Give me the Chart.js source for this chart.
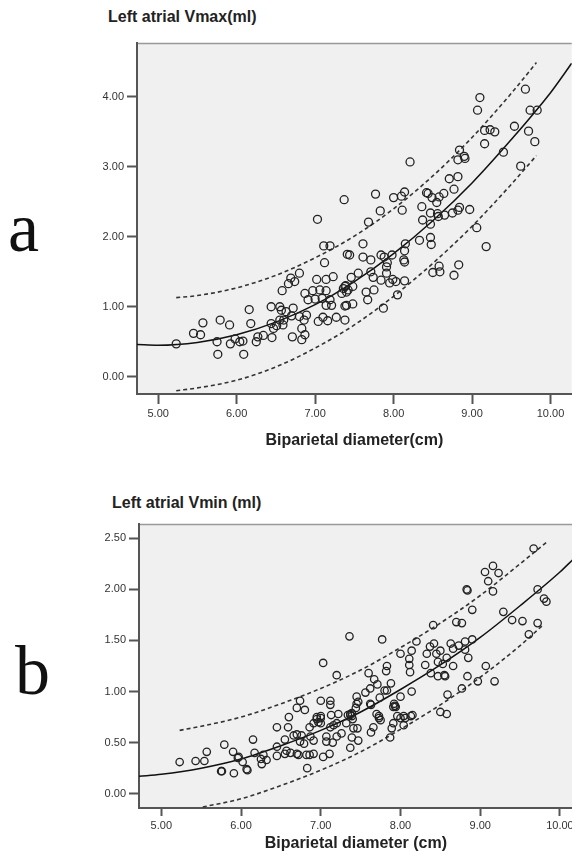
<!DOCTYPE html>
<html>
<head>
<meta charset="utf-8">
<script src="https://cdn.jsdelivr.net/npm/chart.js@4.4.1/dist/chart.umd.min.js"></script>
<style>
  body { margin: 0; background: #fff; width: 572px; height: 855px; position: relative; overflow: hidden; font-family: "Liberation Sans", Arial, sans-serif; }
  .panel { position: absolute; left: 0; }
  .ttl { position: absolute; font-size: 16px; font-weight: bold; color: #222; line-height: 18px; white-space: nowrap; }
  .tag { position: absolute; font-family: "Liberation Serif", "DejaVu Serif", serif; font-size: 70px; line-height: 70px; color: #111; }
</style>
</head>
<body>
<div class="ttl" style="left:108px; top:8px;">Left atrial Vmax(ml)</div>
<div class="ttl" style="left:112px; top:494px;">Left atrial Vmin (ml)</div>
<div class="tag" style="left:8px; top:193px;">a</div>
<div class="tag" style="left:15px; top:636px;">b</div>
<div class="panel" style="top:0px;"><canvas id="chartA" width="577" height="460"></canvas></div>
<div class="panel" style="top:460px;"><canvas id="chartB" width="578" height="395"></canvas></div>
<script>
// ---- panel a : Left atrial Vmax ----
const xTicksA = [5, 6, 7, 8, 9, 10];
const yTicksA = [0, 1, 2, 3, 4];

const ptsAX = [9.10, 9.07, 9.68, 9.74, 9.83,
  9.16, 9.23, 9.29, 9.16, 9.54, 9.72, 9.80, 9.40, 9.62,
  8.84, 8.82, 8.90, 8.91, 8.21, 8.71, 8.82, 8.77, 8.42, 8.44, 8.49, 8.58, 8.64, 8.55, 8.36, 8.14, 8.10, 8.00, 7.77, 7.37,
  7.83, 8.11, 7.03, 7.68, 8.37, 8.47, 8.56, 8.57, 8.65, 8.75, 8.82, 8.84, 8.97, 9.06, 9.18, 8.47, 8.47, 8.48, 8.33, 8.15,
  8.14, 7.61, 7.11, 7.19, 7.41, 7.44, 7.61, 7.71, 7.84, 7.88, 7.98,
  8.13, 8.14, 7.92, 7.91, 7.12, 6.80, 6.69, 6.66, 6.74, 6.58, 7.02, 7.14, 7.23, 6.87, 6.97, 7.06, 7.14, 6.91, 7.00, 7.09,
  7.19, 7.21, 7.14, 7.38, 7.40, 7.48, 7.46, 7.34, 7.55, 7.71, 7.74, 7.65, 7.67, 7.75, 7.84, 7.91, 7.95, 8.03, 7.99, 8.05,
  7.87, 8.14, 8.50, 8.58, 8.59, 8.77, 8.83, 7.38, 7.40, 7.48, 7.38, 7.27, 7.16, 7.10, 7.04, 6.72, 6.63, 6.70, 6.80, 6.89,
  6.86, 6.83, 6.87, 6.83, 6.71, 6.55, 6.57, 6.44, 6.44, 6.55, 6.59, 6.51, 6.47, 6.60, 6.45, 6.34, 6.27, 6.25, 6.16, 6.18,
  6.08, 6.04, 5.98, 6.09, 5.91, 5.92, 5.79, 5.75, 5.76, 5.57, 5.54, 5.45, 5.23, 7.36, 7.42, 7.39];
const ptsAY = [3.99, 3.81, 4.11, 3.81, 3.81,
  3.52, 3.53, 3.50, 3.33, 3.58, 3.51, 3.36, 3.21, 3.01,
  3.24, 3.10, 3.15, 3.12, 3.07, 2.83, 2.86, 2.68, 2.63, 2.62, 2.56, 2.57, 2.62, 2.49, 2.43, 2.64, 2.58, 2.56, 2.61, 2.53,
  2.37, 2.38, 2.25, 2.21, 2.24, 2.34, 2.33, 2.29, 2.31, 2.34, 2.38, 2.42, 2.39, 2.13, 1.86, 2.18, 1.99, 1.89, 1.95, 1.90,
  1.80, 1.90, 1.87, 1.87, 1.75, 1.74, 1.71, 1.67, 1.74, 1.71, 1.74,
  1.67, 1.64, 1.63, 1.57, 1.63, 1.48, 1.41, 1.33, 1.36, 1.23, 1.39, 1.39, 1.43, 1.19, 1.23, 1.24, 1.23, 1.10, 1.11, 1.12,
  1.10, 1.02, 1.02, 1.29, 1.21, 1.29, 1.42, 1.19, 1.48, 1.50, 1.42, 1.21, 1.10, 1.24, 1.38, 1.48, 1.34, 1.36, 1.39, 1.17,
  0.98, 1.37, 1.49, 1.58, 1.50, 1.45, 1.60, 1.01, 1.02, 1.04, 0.81, 0.85, 0.80, 0.85, 0.79, 0.98, 0.93, 0.87, 0.86, 0.88,
  0.81, 0.69, 0.60, 0.53, 0.57, 1.00, 0.95, 1.00, 0.76, 0.81, 0.74, 0.73, 0.69, 0.81, 0.56, 0.59, 0.57, 0.50, 0.96, 0.76,
  0.51, 0.50, 0.54, 0.32, 0.74, 0.47, 0.81, 0.50, 0.32, 0.77, 0.60, 0.62, 0.47, 1.26, 1.24, 1.30];

// fitted curve and 95% band
const fitAX = [4.73, 5.0, 5.5, 6.0, 6.5, 7.0, 7.5, 8.0, 8.5, 9.0, 9.5, 10.0, 10.27];
const fitAY = [0.46, 0.45, 0.49, 0.60, 0.78, 1.03, 1.36, 1.76, 2.23, 2.77, 3.39, 4.06, 4.48];
const bandAX = [5.23, 5.5, 6.0, 6.5, 7.0, 7.5, 8.0, 8.5, 9.0, 9.5, 9.82];
const upperAY = [1.13, 1.16, 1.27, 1.45, 1.70, 2.01, 2.40, 2.87, 3.42, 4.05, 4.49];
const lowerAY = [-0.20, -0.16, -0.05, 0.14, 0.41, 0.74, 1.15, 1.62, 2.15, 2.75, 3.16];

// ---- panel b : Left atrial Vmin ----
const xTicksB = [5, 6, 7, 8, 9, 10];
const yTicksB = [0, 0.5, 1, 1.5, 2, 2.5];

const ptsBX = [9.67, 9.16, 9.06, 9.23, 9.10, 9.16, 8.83, 8.84, 8.90, 9.72, 9.80, 9.83, 9.29,
  9.40, 9.53, 9.72, 9.61, 8.70, 8.77, 8.41, 8.20, 8.90, 8.63, 8.73, 8.81, 8.81, 8.66, 8.42, 8.37, 8.50, 8.45, 8.33, 8.14,
  8.00, 8.11, 8.58, 8.85, 8.47, 8.53, 8.66, 8.31, 8.11, 8.12, 8.38, 8.55, 8.56, 8.47, 8.84, 8.97, 9.18, 9.07, 8.77, 8.59,
  8.14, 7.83, 7.80, 7.88, 7.83, 7.82, 7.77, 7.36, 7.03, 7.20, 7.60, 7.67, 7.71, 7.62, 7.56, 7.45, 7.45, 7.63, 7.74, 8.00,
  7.93, 7.94, 8.13, 8.15, 8.50, 8.58, 6.74, 6.70, 6.80, 6.60, 7.00, 7.12, 7.12, 7.13, 7.22, 6.95, 7.00, 7.37, 7.39, 7.73,
  7.73, 8.00, 8.06,
  6.45, 6.59, 6.15, 5.79, 5.90, 5.57, 5.23, 5.43, 5.54, 5.75, 5.76, 5.91, 5.96, 6.02, 6.07, 6.08, 6.17, 6.26, 6.28, 6.32,
  6.45, 6.45, 6.55, 6.57, 6.55, 6.62, 6.70, 6.72, 6.66, 6.70, 6.76, 6.74, 6.79, 6.82, 6.86, 6.83, 6.86, 6.91, 6.95, 7.00,
  6.97, 7.00, 6.91, 6.87, 6.91, 7.03, 7.11, 7.07, 7.07, 7.15, 7.12, 7.16, 7.20, 7.20, 7.26, 7.32, 7.34, 7.37, 7.39, 7.40,
  7.41, 7.46, 7.39, 7.37, 7.47, 7.44, 7.47, 7.62, 7.63, 7.66, 7.70, 7.75, 7.87, 7.89, 7.91, 7.91, 7.92, 7.96, 8.04, 8.04,
  5.97, 6.25];
const ptsBY = [2.40, 2.23, 2.17, 2.16, 2.08, 1.98, 2.00, 1.99, 1.80, 2.00, 1.91, 1.88, 1.78,
  1.70, 1.69, 1.67, 1.56, 1.68, 1.67, 1.65, 1.49, 1.51, 1.47, 1.45, 1.49, 1.41, 1.42, 1.47, 1.44, 1.40, 1.37, 1.37, 1.40,
  1.37, 1.32, 1.33, 1.33, 1.29, 1.27, 1.25, 1.26, 1.26, 1.19, 1.18, 1.16, 1.15, 1.15, 1.15, 1.10, 1.10, 1.25, 1.03, 0.97,
  1.00, 1.01, 1.01, 1.08, 1.25, 1.20, 1.51, 1.54, 1.28, 1.16, 1.18, 1.12, 1.07, 1.03, 0.99, 0.95, 0.88, 0.87, 0.94, 0.95,
  0.86, 0.85, 0.76, 0.77, 0.80, 0.78, 0.91, 0.84, 0.82, 0.75, 0.91, 0.91, 0.87, 0.77, 0.78, 0.75, 0.76, 0.77, 0.76, 0.76,
  0.74, 0.74, 0.74,
  0.65, 0.65, 0.53, 0.48, 0.41, 0.41, 0.31, 0.32, 0.32, 0.22, 0.22, 0.20, 0.35, 0.31, 0.24, 0.23, 0.40, 0.29, 0.38, 0.33,
  0.37, 0.46, 0.53, 0.42, 0.39, 0.40, 0.39, 0.38, 0.57, 0.58, 0.57, 0.51, 0.49, 0.38, 0.38, 0.25, 0.65, 0.69, 0.73, 0.74,
  0.70, 0.69, 0.52, 0.56, 0.39, 0.36, 0.39, 0.56, 0.51, 0.50, 0.65, 0.67, 0.69, 0.56, 0.59, 0.69, 0.77, 0.78, 0.79, 0.73,
  0.64, 0.64, 0.55, 0.45, 0.52, 0.84, 0.90, 0.88, 0.60, 0.65, 0.78, 0.72, 0.55, 0.64, 0.69, 0.85, 0.88, 0.76, 0.76, 0.67,
  0.36, 0.34];

const fitBX = [4.72, 5.0, 5.5, 6.0, 6.5, 7.0, 7.5, 8.0, 8.5, 9.0, 9.5, 10.0, 10.16];
const fitBY = [0.17, 0.19, 0.25, 0.34, 0.47, 0.62, 0.80, 1.02, 1.26, 1.53, 1.84, 2.17, 2.29];
const upperBX = [5.23, 5.5, 6.0, 6.5, 7.0, 7.5, 8.0, 8.5, 9.0, 9.5, 9.83];
const upperBY = [0.62, 0.66, 0.75, 0.88, 1.03, 1.21, 1.43, 1.67, 1.94, 2.25, 2.46];
const lowerBX = [5.52, 6.0, 6.5, 7.0, 7.5, 8.0, 8.5, 9.0, 9.5, 9.8];
const lowerBY = [-0.13, -0.05, 0.08, 0.23, 0.41, 0.63, 0.87, 1.14, 1.45, 1.66];

const FONT = "'Liberation Sans', Arial, sans-serif";

function pairs(xs, ys) {
  return xs.map((x, i) => ({ x: x, y: ys[i] }));
}

// grey plot background plus a light frame line on top
const plotFrame = {
  id: 'plotFrame',
  beforeDraw(chart) {
    const a = chart.chartArea;
    const ctx = chart.ctx;
    ctx.save();
    ctx.fillStyle = '#f0f0f0';
    ctx.fillRect(a.left, a.top, a.right - a.left, a.bottom - a.top);
    ctx.strokeStyle = '#999';
    ctx.lineWidth = 1.5;
    ctx.beginPath();
    ctx.moveTo(a.left, a.top + 0.5);
    ctx.lineTo(a.right, a.top + 0.5);
    ctx.stroke();
    ctx.restore();
  }
};

function makePanel(id, p) {
  const line = (xs, ys, dashed) => ({
    type: 'line',
    data: pairs(xs, ys),
    borderColor: dashed ? '#333' : '#111',
    borderWidth: dashed ? 1.6 : 1.5,
    borderDash: dashed ? [4, 3] : [],
    pointRadius: 0,
    fill: false,
    cubicInterpolationMode: 'monotone'
  });
  return new Chart(document.getElementById(id), {
    type: 'scatter',
    data: {
      datasets: [
        {
          data: pairs(p.px, p.py),
          pointStyle: 'circle',
          pointRadius: p.r,
          pointBorderWidth: 1.3,
          pointBorderColor: '#222',
          pointBackgroundColor: 'rgba(0,0,0,0)'
        },
        line(p.fx, p.fy, false),
        line(p.ux, p.uy, true),
        line(p.lx, p.ly, true)
      ]
    },
    options: {
      responsive: false,
      animation: false,
      layout: { padding: { top: p.top, left: 0, right: 0, bottom: 0 } },
      plugins: { legend: { display: false }, tooltip: { enabled: false } },
      scales: {
        x: {
          type: 'linear',
          min: p.xmin, max: p.xmax,
          afterBuildTicks: s => { s.ticks = p.xticks.map(v => ({ value: v })); },
          afterFit: s => { s.height = p.xh; s.paddingLeft = 0; s.paddingRight = 0; },
          border: { display: true, color: '#555', width: 2 },
          grid: { drawOnChartArea: false, drawTicks: true, tickLength: p.tl, tickWidth: 2, tickColor: '#555' },
          ticks: { padding: 3, maxRotation: 0, color: '#333', font: { family: FONT, size: 11 },
                   callback: v => Number(v).toFixed(2) },
          title: { display: true, text: p.xtitle, color: '#222', font: { family: FONT, size: 16, weight: 'bold' },
                   padding: { top: 0, bottom: p.tb } }
        },
        y: {
          min: p.ymin, max: p.ymax,
          afterBuildTicks: s => { s.ticks = p.yticks.map(v => ({ value: v })); },
          afterFit: s => { s.width = p.yw; },
          border: { display: true, color: '#555', width: 2 },
          grid: { drawOnChartArea: false, drawTicks: true, tickLength: 10, tickWidth: 2, tickColor: '#555' },
          ticks: { padding: 3, color: '#333', font: { family: FONT, size: 11 },
                   callback: v => Number(v).toFixed(2) }
        }
      }
    },
    plugins: [plotFrame]
  });
}

makePanel('chartA', {
  px: ptsAX, py: ptsAY, fx: fitAX, fy: fitAY,
  ux: bandAX, uy: upperAY, lx: bandAX, ly: lowerAY,
  xticks: xTicksA, yticks: yTicksA,
  xmin: 4.73, xmax: 10.27, ymin: -0.247, ymax: 4.77,
  top: 43, xh: 66, yw: 137, tl: 10, tb: 10, r: 4,
  xtitle: 'Biparietal diameter(cm)'
});

makePanel('chartB', {
  px: ptsBX, py: ptsBY, fx: fitBX, fy: fitBY,
  ux: upperBX, uy: upperBY, lx: lowerBX, ly: lowerBY,
  xticks: xTicksB, yticks: yTicksB,
  xmin: 4.72, xmax: 10.16, ymin: -0.14, ymax: 2.64,
  top: 64, xh: 47, yw: 139, tl: 8, tb: 2, r: 3.7,
  xtitle: 'Biparietal diameter (cm)'
});
</script>
</body>
</html>
